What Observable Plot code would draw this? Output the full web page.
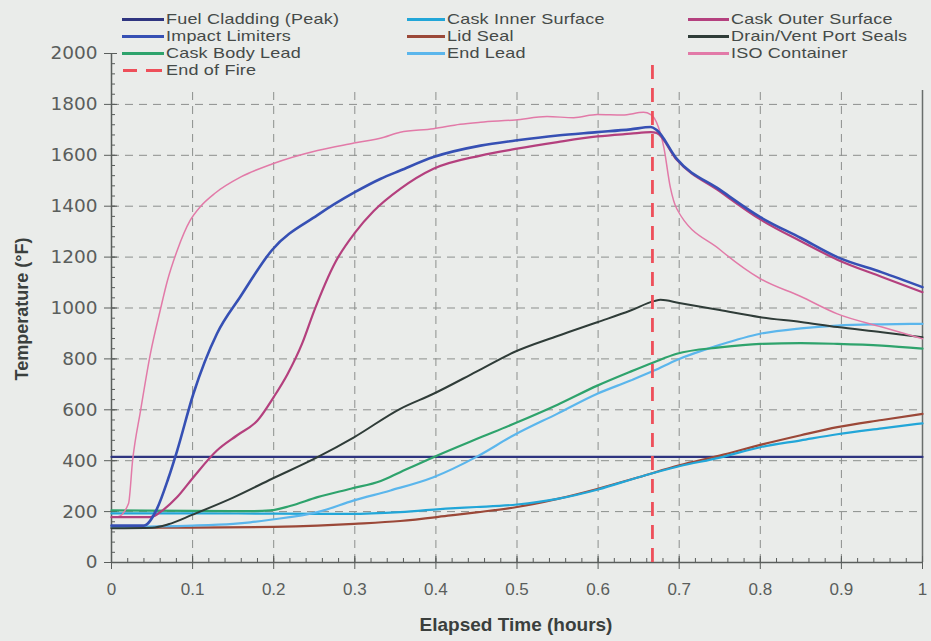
<!DOCTYPE html>
<html>
<head>
<meta charset="utf-8">
<script src="https://cdn.jsdelivr.net/npm/d3@7"></script>
<script src="https://cdn.jsdelivr.net/npm/@observablehq/plot@0.6"></script>
<style>
  html, body { margin: 0; padding: 0; background: #eaecea; }
  #wrap { position: relative; width: 931px; height: 641px; overflow: hidden; background: #eaecea; }
  #wrap svg { position: absolute; left: 0; top: 0; }
  .leg { position: absolute; font-family: "Liberation Sans", Arial, sans-serif; font-size: 18px; color: #454a48; line-height: 16px; height: 16px; white-space: nowrap; letter-spacing: 0.2px; transform: scaleY(0.84); transform-origin: left center; }
  .sw { position: absolute; height: 0; }
  .atitle { position: absolute; font-family: "Liberation Sans", Arial, sans-serif; font-weight: bold; color: #3a3f3d; white-space: nowrap; }
</style>
</head>
<body>
<div id="wrap"></div>
<script>
// ---------- data ----------
const END_OF_FIRE = 0.667;

const t_fuel = [0, 1];
const v_fuel = [415, 415];

const t_impact = [0, 0.04, 0.056, 0.07, 0.081, 0.101, 0.13, 0.159, 0.198, 0.254, 0.3, 0.332, 0.356, 0.397, 0.455, 0.498, 0.55, 0.599, 0.64, 0.665, 0.672, 0.697, 0.75, 0.8, 0.85, 0.895, 0.95, 1.0];
const v_impact = [145, 145, 211, 330, 440, 663, 899, 1045, 1228, 1365, 1455, 1508, 1540, 1593, 1638, 1658, 1678, 1691, 1702, 1711, 1700, 1586, 1465, 1357, 1275, 1200, 1140, 1082];

const t_bodyLead = [0, 0.1, 0.171, 0.196, 0.22, 0.254, 0.295, 0.332, 0.356, 0.397, 0.45, 0.496, 0.55, 0.599, 0.64, 0.669, 0.697, 0.75, 0.8, 0.85, 0.895, 0.95, 1.0];
const v_bodyLead = [205, 203, 202, 205, 222, 257, 290, 320, 355, 414, 485, 545, 620, 695, 750, 787, 820, 845, 859, 862, 859, 852, 840];

const t_inner = [0, 0.1, 0.2, 0.295, 0.356, 0.418, 0.45, 0.5, 0.55, 0.6, 0.65, 0.7, 0.75, 0.8, 0.85, 0.895, 0.95, 1.0];
const v_inner = [193, 193, 192, 191, 198, 213, 218, 228, 250, 287, 335, 378, 412, 453, 480, 504, 527, 547];

const t_lid = [0, 0.1, 0.2, 0.254, 0.299, 0.356, 0.418, 0.45, 0.5, 0.55, 0.6, 0.65, 0.7, 0.75, 0.8, 0.85, 0.895, 0.95, 1.0];
const v_lid = [137, 137, 140, 145, 152, 163, 185, 197, 218, 250, 290, 335, 382, 420, 462, 500, 532, 560, 584];

const t_endLead = [0, 0.1, 0.15, 0.171, 0.196, 0.254, 0.299, 0.344, 0.397, 0.45, 0.496, 0.55, 0.599, 0.64, 0.669, 0.697, 0.75, 0.8, 0.85, 0.895, 0.95, 1.0];
const v_endLead = [140, 145, 152, 158, 168, 198, 244, 283, 335, 415, 500, 585, 663, 715, 754, 796, 855, 899, 920, 931, 936, 938];

const t_outer = [0, 0.048, 0.065, 0.081, 0.101, 0.13, 0.155, 0.18, 0.2, 0.217, 0.235, 0.25, 0.276, 0.3, 0.323, 0.356, 0.397, 0.455, 0.498, 0.55, 0.599, 0.64, 0.665, 0.672, 0.697, 0.75, 0.8, 0.85, 0.895, 0.95, 1.0];
const v_outer = [178, 178, 210, 257, 335, 440, 500, 558, 650, 740, 860, 990, 1180, 1295, 1380, 1468, 1547, 1599, 1625, 1652, 1674, 1685, 1691, 1688, 1582, 1458, 1348, 1262, 1190, 1122, 1062];

const t_drain = [0, 0.05, 0.07, 0.1, 0.15, 0.198, 0.254, 0.299, 0.356, 0.397, 0.45, 0.496, 0.55, 0.599, 0.64, 0.669, 0.677, 0.7, 0.75, 0.8, 0.85, 0.895, 0.95, 1.0];
const v_drain = [135, 137, 150, 188, 255, 329, 414, 492, 604, 663, 750, 826, 890, 944, 990, 1027, 1032, 1020, 992, 964, 945, 925, 905, 885];

const t_iso = [0, 0.008, 0.021, 0.026, 0.036, 0.048, 0.06, 0.069, 0.081, 0.097, 0.11, 0.128, 0.159, 0.198, 0.254, 0.299, 0.336, 0.356, 0.397, 0.43, 0.455, 0.498, 0.537, 0.57, 0.599, 0.63, 0.656, 0.665, 0.672, 0.681, 0.689, 0.697, 0.75, 0.8, 0.85, 0.895, 0.95, 1.0];
const v_iso = [178, 180, 232, 400, 600, 821, 990, 1108, 1226, 1344, 1400, 1452, 1514, 1566, 1619, 1648, 1671, 1691, 1704, 1722, 1730, 1739, 1752, 1748, 1760, 1758, 1769, 1760, 1730, 1632, 1475, 1390, 1230, 1115, 1045, 977, 925, 879];

const X_TICKS = d3.range(0, 11).map(i => i / 10);
const X_MINOR = d3.range(0, 51).map(i => i / 50);
const Y_TICKS = d3.range(0, 2001, 200);
const Y_MINOR = d3.range(0, 2001, 40);

// ---------- series definitions ----------
const series = [
  {name: "Fuel Cladding (Peak)", t: t_fuel, v: v_fuel, color: "#2f3580", w: 2.2, col: 0, row: 0},
  {name: "Impact Limiters", t: t_impact, v: v_impact, color: "#3650b4", w: 2.6, col: 0, row: 1},
  {name: "Cask Body Lead", t: t_bodyLead, v: v_bodyLead, color: "#2ea36c", w: 2.2, col: 0, row: 2},
  {name: "Cask Inner Surface", t: t_inner, v: v_inner, color: "#22a6d8", w: 2.2, col: 1, row: 0},
  {name: "Lid Seal", t: t_lid, v: v_lid, color: "#9b4838", w: 2.2, col: 1, row: 1},
  {name: "End Lead", t: t_endLead, v: v_endLead, color: "#5bb6ec", w: 2.2, col: 1, row: 2},
  {name: "Cask Outer Surface", t: t_outer, v: v_outer, color: "#b4407e", w: 2.2, col: 2, row: 0},
  {name: "Drain/Vent Port Seals", t: t_drain, v: v_drain, color: "#2f3c38", w: 2.0, col: 2, row: 1},
  {name: "ISO Container", t: t_iso, v: v_iso, color: "#e27aa8", w: 1.5, col: 2, row: 2}
];
const drawOrder = ["Fuel Cladding (Peak)", "Lid Seal", "Cask Inner Surface", "End Lead", "Cask Body Lead", "Drain/Vent Port Seals", "ISO Container", "Cask Outer Surface", "Impact Limiters"];

const rows = [];
for (const name of drawOrder) {
  const s = series.find(d => d.name === name);
  s.t.forEach((t, i) => rows.push({name, t, v: s.v[i]}));
}
const colorOf = Object.fromEntries(series.map(s => [s.name, s.color]));
const widthOf = Object.fromEntries(series.map(s => [s.name, s.w]));

const gridStyle = {stroke: "#8c8f8d", strokeWidth: 1, strokeDasharray: "8,6"};
const axisColor = "#5a5e5c";

const lineMarks = drawOrder.map(name =>
  Plot.line(rows.filter(r => r.name === name), {
    x: "t", y: "v", stroke: colorOf[name], strokeWidth: widthOf[name], curve: "monotone-x"
  })
);

const chart = Plot.plot({
  width: 931,
  height: 641,
  marginLeft: 111,
  marginRight: 9,
  marginTop: 53,
  marginBottom: 79,
  style: {background: "transparent", color: axisColor, overflow: "visible"},
  x: {domain: [0, 1], label: null},
  y: {domain: [0, 2000], label: null},
  marks: [
    // grid
    Plot.ruleY(Y_TICKS.filter(v => v > 0 && v < 2000), gridStyle),
    Plot.ruleX(X_TICKS.filter(v => v > 0 && v < 1), {...gridStyle, y1: 0, y2: 1870}),
    // frame pieces
    Plot.ruleX([1], {y1: 0, y2: 1855, stroke: "#6a6e6c", strokeWidth: 1.5}),
    Plot.ruleX([0], {y1: 0, y2: 2000, stroke: axisColor, strokeWidth: 1.5}),
    Plot.ruleY([0], {stroke: axisColor, strokeWidth: 1.5}),
    // y axis
    Plot.axisY({ticks: Y_TICKS, tickSize: 7, tickPadding: 7, tickFormat: d => String(d),
      fontFamily: "DejaVu Sans", fontSize: 18.5, fill: "#5a5e5c", label: null}),
    Plot.axisY({ticks: Y_TICKS, tickSize: 6, dx: 6, tickFormat: () => "", label: null}),
    Plot.axisY({ticks: Y_MINOR, tickSize: 4, dx: 4, tickFormat: () => "", label: null}),
    // x axis
    Plot.axisX({ticks: X_TICKS, tickSize: 7, tickPadding: 13, tickFormat: d3.format("~g"),
      fontFamily: "Liberation Sans", fontSize: 17, fill: "#5a5e5c", label: null}),
    Plot.axisX({ticks: X_TICKS, tickSize: 6, dy: -6, tickFormat: () => "", label: null}),
    Plot.axisX({ticks: X_MINOR, tickSize: 4, dy: -4, tickFormat: () => "", label: null}),
    // series
    ...lineMarks,
    // end of fire
    Plot.ruleX([END_OF_FIRE], {y1: 0, y2: 1965, stroke: "#ee4f5a", strokeWidth: 2.8, strokeDasharray: "14,9"})
  ]
});

const wrap = document.getElementById("wrap");
wrap.appendChild(chart);

// ---------- legend ----------
const colSwatch = [[122, 164], [407, 445], [688, 729]];
const rowY = [19, 36, 53, 70];
function addLegendText(label, x, y) {
  const tx = document.createElement("div");
  tx.className = "leg";
  tx.textContent = label;
  tx.style.left = x + "px";
  tx.style.top = (y - 8) + "px";
  wrap.appendChild(tx);
}
function addSwatch(x0, width, y, color, lw) {
  const sw = document.createElement("div");
  sw.className = "sw";
  sw.style.left = x0 + "px";
  sw.style.width = width + "px";
  sw.style.top = (y - lw / 2) + "px";
  sw.style.borderTop = `${lw}px solid ${color}`;
  wrap.appendChild(sw);
}
for (const s of series) {
  const [x0, x1] = colSwatch[s.col];
  addSwatch(x0, x1 - x0, rowY[s.row], s.color, 3);
  addLegendText(s.name, x1 + 2, rowY[s.row]);
}
// End of Fire legend entry (dashed)
{
  const [x0, x1] = colSwatch[0];
  const y = rowY[3];
  addSwatch(x0 + 1, 14, y, "#ee4f5a", 3);
  addSwatch(x0 + 24, 16, y, "#ee4f5a", 3);
  addLegendText("End of Fire", x1 + 2, y);
}

// ---------- axis titles ----------
const xt = document.createElement("div");
xt.className = "atitle";
xt.textContent = "Elapsed Time (hours)";
xt.style.fontSize = "19px";
xt.style.left = "516px";
xt.style.top = "614px";
xt.style.transform = "translateX(-50%)";
wrap.appendChild(xt);

const yt = document.createElement("div");
yt.className = "atitle";
yt.textContent = "Temperature (°F)";
yt.style.fontSize = "18px";
yt.style.left = "22px";
yt.style.top = "309px";
yt.style.transform = "translate(-50%, -50%) rotate(-90deg)";
wrap.appendChild(yt);
</script>
</body>
</html>
